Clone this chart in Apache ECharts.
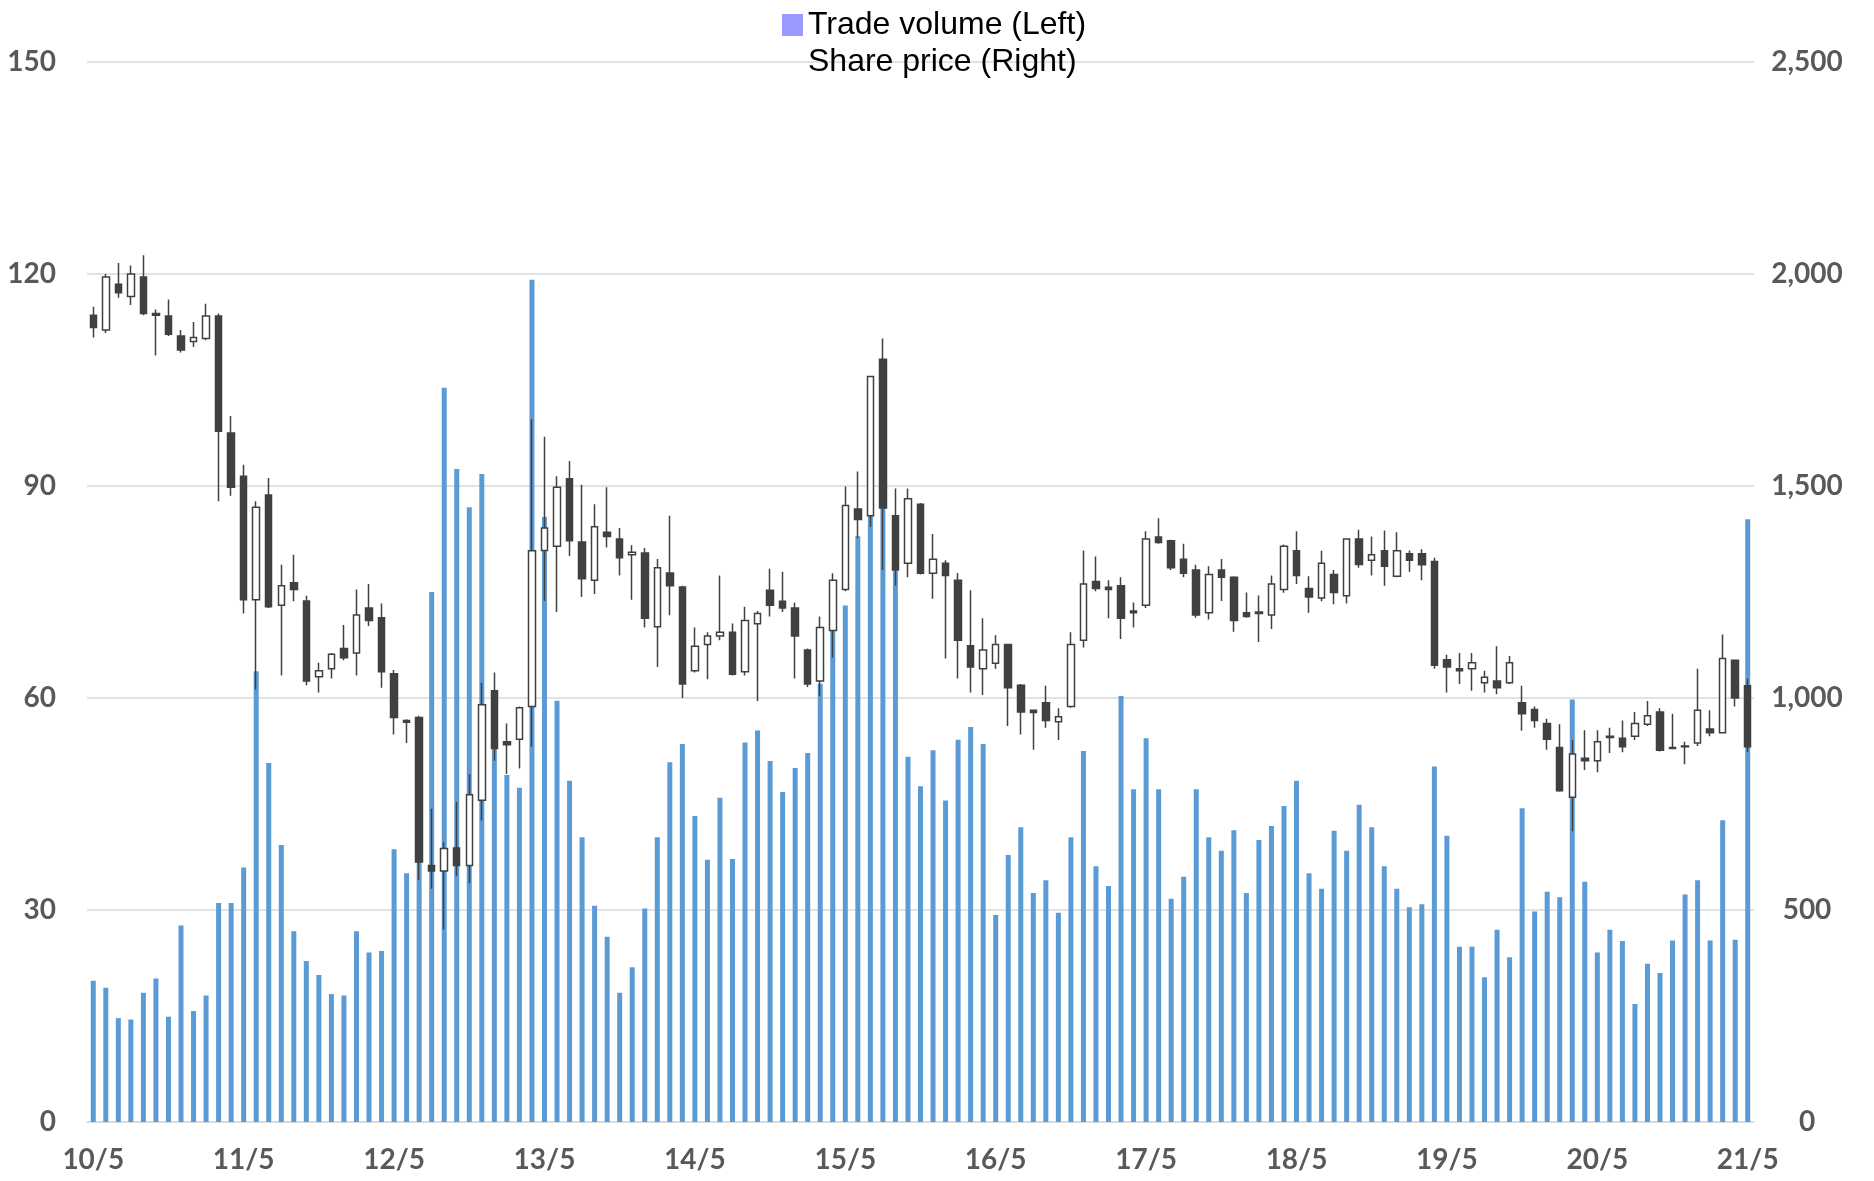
<!DOCTYPE html>
<html>
<head>
<meta charset="utf-8">
<title>Trade volume / Share price</title>
<script src="https://cdn.jsdelivr.net/npm/echarts@6/dist/echarts.min.js"></script>
<style>
  html, body { margin: 0; padding: 0; background: #ffffff; }
  #chart { width: 1874px; height: 1181px; }
</style>
</head>
<body>
<div id="chart"></div>
<script>
// monthly categories 10/5 .. 21/5
const categories = [];
for (let y = 10; y <= 21; y++) {
  for (let m = 1; m <= 12; m++) {
    if ((y === 10 && m < 5) || (y === 21 && m > 5)) continue;
    categories.push(y + '/' + m);
  }
}

// left axis
const tradeVolume = [
  20, 19, 14.7, 14.5, 18.3, 20.3, 14.9, 27.8, 15.7, 17.9, 31, 31,
  36, 63.8, 50.8, 39.2, 27, 22.8, 20.8, 18.1, 17.9, 27, 24, 24.2,
  38.6, 35.2, 50, 75, 103.9, 92.4, 87, 91.7, 55, 49.1, 47.3, 119.2,
  85.6, 59.6, 48.3, 40.3, 30.6, 26.2, 18.3, 21.9, 30.2, 40.3, 50.9, 53.5,
  43.3, 37.1, 45.9, 37.2, 53.7, 55.4, 51.1, 46.7, 50.1, 52.2, 62, 73,
  73.1, 82.9, 86, 87, 78, 51.7, 47.5, 52.6, 45.5, 54.1, 55.9, 53.5,
  29.3, 37.8, 41.7, 32.4, 34.2, 29.6, 40.3, 52.5, 36.2, 33.4, 60.3, 47.1,
  54.3, 47.1, 31.6, 34.7, 47.1, 40.3, 38.4, 41.3, 32.4, 39.9, 41.9, 44.7,
  48.3, 35.2, 33, 41.2, 38.4, 44.9, 41.7, 36.2, 33, 30.4, 30.8, 50.3,
  40.5, 24.8, 24.8, 20.5, 27.2, 23.3, 44.4, 29.8, 32.6, 31.8, 59.8, 34,
  24, 27.2, 25.6, 16.7, 22.4, 21.1, 25.7, 32.2, 34.2, 25.7, 42.7, 25.8,
  85.3
];

// right axis, monthly candles
const priceOpen = [
  1903, 1868, 1976, 1947, 1993, 1907, 1901, 1854, 1841, 1848, 1901, 1625,
  1523, 1232, 1479, 1219, 1272, 1229, 1050, 1069, 1117, 1106, 1212, 1189,
  1057, 947, 954, 605, 592, 646, 605, 759, 1017, 897, 903, 980,
  1348, 1358, 1517, 1368, 1278, 1391, 1375, 1338, 1342, 1168, 1295, 1262,
  1064, 1126, 1146, 1155, 1062, 1175, 1254, 1228, 1212, 1113, 1040, 1159,
  1256, 1446, 1430, 1799, 1430, 1318, 1457, 1294, 1318, 1278, 1123, 1069,
  1082, 1126, 1030, 971, 989, 944, 980, 1136, 1275, 1261, 1265, 1205,
  1219, 1380, 1371, 1327, 1302, 1201, 1302, 1285, 1201, 1199, 1196, 1256,
  1347, 1258, 1236, 1291, 1241, 1375, 1325, 1347, 1287, 1340, 1340, 1322,
  1090, 1069, 1069, 1036, 1040, 1036, 989, 973, 940, 883, 766, 858,
  852, 907, 905, 910, 938, 967, 883, 885, 894, 927, 918, 1089,
  1029
];
const priceClose = [
  1874, 1993, 1956, 2000, 1907, 1903, 1858, 1821, 1850, 1901, 1629, 1497,
  1232, 1450, 1215, 1265, 1256, 1040, 1064, 1103, 1095, 1196, 1183, 1062,
  954, 943, 613, 592, 645, 605, 772, 984, 881, 890, 977, 1347,
  1401, 1497, 1371, 1281, 1404, 1381, 1331, 1344, 1188, 1307, 1265, 1033,
  1122, 1146, 1155, 1056, 1183, 1199, 1219, 1212, 1146, 1033, 1166, 1278,
  1454, 1421, 1758, 1448, 1302, 1470, 1294, 1327, 1289, 1136, 1073, 1113,
  1126, 1024, 967, 966, 947, 956, 1126, 1269, 1258, 1256, 1188, 1201,
  1375, 1367, 1307, 1294, 1196, 1291, 1285, 1183, 1192, 1203, 1269, 1358,
  1289, 1238, 1318, 1249, 1375, 1315, 1338, 1311, 1347, 1325, 1314, 1077,
  1073, 1064, 1083, 1049, 1024, 1083, 963, 947, 903, 781, 868, 852,
  897, 910, 885, 940, 958, 877, 881, 887, 971, 918, 1093, 1000,
  885
];
const priceLow = [
  1850, 1861, 1944, 1927, 1903, 1808, 1854, 1815, 1828, 1844, 1464, 1477,
  1199, 1020, 1212, 1053, 1228, 1030, 1013, 1046, 1089, 1053, 1170, 1024,
  914, 894, 570, 550, 454, 580, 563, 711, 852, 821, 834, 885,
  1229, 1203, 1335, 1238, 1245, 1355, 1289, 1232, 1166, 1073, 1195, 1000,
  1060, 1044, 1136, 1053, 1053, 993, 1192, 1203, 1046, 1026, 1004, 1095,
  1252, 1377, 1404, 1302, 1265, 1285, 1291, 1234, 1093, 1046, 1013, 1007,
  1069, 934, 914, 878, 930, 901, 977, 1119, 1252, 1188, 1139, 1166,
  1212, 1364, 1302, 1285, 1189, 1185, 1229, 1156, 1189, 1132, 1163, 1248,
  1269, 1201, 1228, 1221, 1223, 1307, 1289, 1265, 1285, 1298, 1278, 1069,
  1013, 1033, 1017, 1013, 1009, 1033, 923, 930, 878, 779, 686, 830,
  825, 870, 872, 901, 934, 874, 881, 844, 887, 910, 918, 980,
  872
];
const priceHigh = [
  1923, 2000, 2026, 2020, 2044, 1916, 1940, 1868, 1887, 1930, 1907, 1665,
  1550, 1464, 1519, 1314, 1338, 1241, 1083, 1106, 1172, 1256, 1269, 1223,
  1066, 950, 958, 739, 660, 755, 821, 1036, 1060, 940, 980, 1658,
  1616, 1523, 1559, 1503, 1457, 1497, 1401, 1360, 1354, 1328, 1430, 1265,
  1166, 1155, 1289, 1176, 1215, 1205, 1305, 1298, 1225, 1117, 1192, 1294,
  1499, 1534, 1760, 1848, 1494, 1494, 1460, 1387, 1325, 1295, 1254, 1188,
  1148, 1128, 1033, 973, 1029, 976, 1155, 1348, 1334, 1278, 1285, 1225,
  1393, 1424, 1373, 1364, 1314, 1311, 1328, 1287, 1249, 1242, 1289, 1362,
  1393, 1287, 1347, 1302, 1377, 1397, 1381, 1395, 1391, 1348, 1351, 1331,
  1102, 1106, 1106, 1064, 1122, 1099, 1029, 980, 951, 938, 901, 924,
  924, 930, 947, 967, 993, 976, 963, 897, 1069, 971, 1150, 1089,
  1046
];

const volumeTicks = { min: 0, max: 150, interval: 30 };
const priceTicks = { min: 0, max: 2500, interval: 500 };

const COLORS = {
  BAR: '#5B9BD5',
  LEGEND_BAR: '#9999FF',
  CANDLE: '#404040',
  GRID: '#D9D9D9',
  LABEL: '#595959',
};

const candleData = priceOpen.map((o, i) => [o, priceClose[i], priceLow[i], priceHigh[i]]);

const axisLabelStyle = {
  color: COLORS.LABEL,
  fontFamily: 'Lato',
  fontWeight: 'bold',
  fontSize: 28,
};

const chart = echarts.init(document.getElementById('chart'), null, { renderer: 'canvas' });

chart.setOption({
  animation: false,
  backgroundColor: '#ffffff',
  legend: {
    orient: 'vertical',
    left: 777,
    top: 4,
    itemGap: 5,
    itemWidth: 21,
    itemHeight: 22,
    textStyle: {
      color: '#000000',
      fontFamily: 'Liberation Sans, Arial, sans-serif',
      fontSize: 32,
      lineHeight: 32,
    },
    data: [
      { name: 'Trade volume (Left)', icon: 'rect', itemStyle: { color: COLORS.LEGEND_BAR, borderWidth: 0 } },
      { name: 'Share price (Right)', icon: 'rect', itemStyle: { opacity: 0, borderWidth: 0 } },
    ],
  },
  grid: { left: 87, right: 120, top: 62, bottom: 59 },
  xAxis: {
    type: 'category',
    data: categories,
    boundaryGap: true,
    axisLine: { lineStyle: { color: COLORS.GRID, width: 1.5 } },
    axisTick: { interval: 11, length: 10, lineStyle: { color: COLORS.GRID, width: 1.5 } },
    axisLabel: Object.assign({ interval: 11, margin: 24 }, axisLabelStyle),
    splitLine: { show: false },
  },
  yAxis: [
    {
      type: 'value',
      min: volumeTicks.min,
      max: volumeTicks.max,
      interval: volumeTicks.interval,
      axisLine: { show: false },
      axisTick: { show: false },
      axisLabel: Object.assign({ margin: 31 }, axisLabelStyle),
      splitLine: { lineStyle: { color: COLORS.GRID, width: 1.5 } },
    },
    {
      type: 'value',
      position: 'right',
      min: priceTicks.min,
      max: priceTicks.max,
      interval: priceTicks.interval,
      axisLine: { show: false },
      axisTick: { show: false },
      axisLabel: Object.assign({
        margin: 53,
        align: 'center',
        formatter: (v) => v.toLocaleString('en-US'),
      }, axisLabelStyle),
      splitLine: { show: false },
    },
  ],
  series: [
    {
      name: 'Trade volume (Left)',
      type: 'bar',
      yAxisIndex: 0,
      data: tradeVolume,
      barWidth: 5,
      itemStyle: { color: COLORS.BAR },
      z: 2,
    },
    {
      name: 'Share price (Right)',
      type: 'candlestick',
      yAxisIndex: 1,
      data: candleData,
      barWidth: 7,
      itemStyle: {
        color: '#ffffff',
        color0: COLORS.CANDLE,
        borderColor: COLORS.CANDLE,
        borderColor0: COLORS.CANDLE,
        borderColorDoji: COLORS.CANDLE,
        borderWidth: 1.5,
      },
      z: 3,
    },
  ],
});
</script>
</body>
</html>
